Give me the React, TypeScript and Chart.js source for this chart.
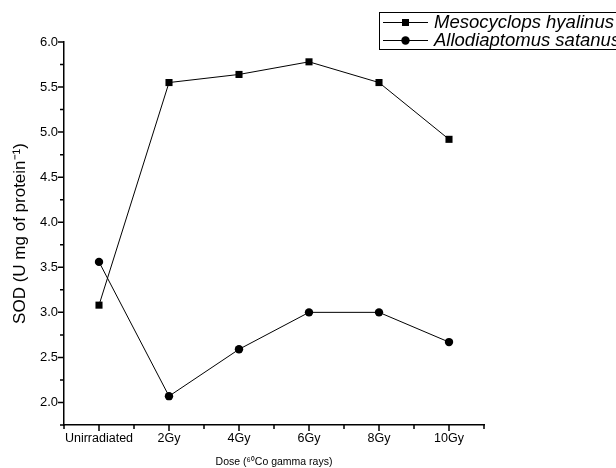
import React, { useEffect, useRef } from 'react';
import { Chart, registerables } from 'chart.js';

Chart.register(...registerables);

const categories = ['Unirradiated', '2Gy', '4Gy', '6Gy', '8Gy', '10Gy'];
const mesocyclops = [3.08, 5.55, 5.64, 5.78, 5.55, 4.92];
const allodiaptomus = [3.56, 2.07, 2.59, 3.0, 3.0, 2.67];
const seriesNames = ['Mesocyclops hyalinus', 'Allodiaptomus satanus'];
const yTickLabels = ['2.0', '2.5', '3.0', '3.5', '4.0', '4.5', '5.0', '5.5', '6.0'];
const yTitle = 'SOD (U mg of protein\u207B\u00B9)';
const xTitle = 'Dose (\u2076\u2070Co gamma rays)';

const FONT = "'Liberation Sans', Arial, sans-serif";

const tickPlugin = {
  id: 'outerTicks',
  afterDraw(chart: any) {
    const { ctx, chartArea } = chart;
    const xs = chart.scales.x;
    const ys = chart.scales.y;
    ctx.save();
    ctx.strokeStyle = '#000';
    ctx.lineWidth = 1.5;
    ctx.beginPath();
    xs.ticks.forEach((t: any) => {
      const px = xs.getPixelForValue(t.value);
      const len = Number.isInteger(t.value) ? 6 : 4;
      ctx.moveTo(px, chartArea.bottom);
      ctx.lineTo(px, chartArea.bottom + len);
    });
    ys.ticks.forEach((t: any) => {
      const py = ys.getPixelForValue(t.value);
      const major = Math.abs(t.value * 2 - Math.round(t.value * 2)) < 1e-6;
      const len = major ? 6 : 4;
      ctx.moveTo(chartArea.left, py);
      ctx.lineTo(chartArea.left - len, py);
    });
    ctx.stroke();
    ctx.restore();
  },
};

const legendPlugin = {
  id: 'boxLegend',
  afterDraw(chart: any) {
    const { ctx } = chart;
    ctx.save();
    ctx.strokeStyle = '#000';
    ctx.lineWidth = 1;
    ctx.strokeRect(379.5, 12.5, 300, 37);
    const rows = [22, 40];
    chart.data.datasets.forEach((ds: any, i: number) => {
      const y = rows[i];
      ctx.beginPath();
      ctx.moveTo(383, y + 0.5);
      ctx.lineTo(428, y + 0.5);
      ctx.stroke();
      ctx.fillStyle = '#000';
      if (ds.pointStyle === 'rect') {
        ctx.fillRect(402, y - 3, 7, 7);
      } else {
        ctx.beginPath();
        ctx.arc(405.5, y + 0.5, 4.2, 0, Math.PI * 2);
        ctx.fill();
      }
      ctx.font = `italic 18.5px ${FONT}`;
      ctx.textBaseline = 'middle';
      ctx.textAlign = 'left';
      ctx.fillText(ds.label, 434, y + 1);
    });
    ctx.restore();
  },
};

export default function App() {
  const ref = useRef<HTMLCanvasElement | null>(null);
  useEffect(() => {
    if (!ref.current) return;
    const chart = new Chart(ref.current, {
      type: 'line',
      data: {
        datasets: [
          {
            label: seriesNames[0],
            data: mesocyclops.map((v, i) => ({ x: i, y: v })),
            borderColor: '#000',
            backgroundColor: '#000',
            borderWidth: 1,
            pointStyle: 'rect',
            pointRadius: 5,
            pointBorderWidth: 0,
            tension: 0,
          },
          {
            label: seriesNames[1],
            data: allodiaptomus.map((v, i) => ({ x: i, y: v })),
            borderColor: '#000',
            backgroundColor: '#000',
            borderWidth: 1,
            pointStyle: 'circle',
            pointRadius: 4.2,
            pointBorderWidth: 0,
            tension: 0,
          },
        ],
      },
      options: {
        animation: false,
        responsive: false,
        maintainAspectRatio: false,
        layout: { padding: { left: 0, top: 42, right: 132, bottom: 0 } },
        plugins: {
          legend: { display: false },
          tooltip: { enabled: false },
        },
        scales: {
          x: {
            type: 'linear',
            min: -0.5,
            max: 5.5,
            afterFit: (s: any) => {
              s.height = 43;
            },
            ticks: {
              stepSize: 0.5,
              autoSkip: false,
              maxRotation: 0,
              padding: 6,
              color: '#000',
              font: { family: FONT, size: 12.5 },
              callback: (v: any) => (Number.isInteger(v) ? categories[v] : ''),
            },
            grid: { drawOnChartArea: false, drawTicks: false },
            border: { display: true, color: '#000', width: 1.5 },
            title: {
              display: true,
              text: xTitle,
              color: '#000',
              font: { family: FONT, size: 10.5 },
              padding: { top: 0, bottom: 0 },
            },
          },
          y: {
            type: 'linear',
            min: 1.75,
            max: 6.0,
            afterFit: (s: any) => {
              s.width = 64;
            },
            ticks: {
              stepSize: 0.25,
              autoSkip: false,
              padding: 6,
              color: '#000',
              font: { family: FONT, size: 13 },
              callback: (v: any) => {
                const lab = yTickLabels.find((l) => Math.abs(parseFloat(l) - v) < 1e-6);
                return lab ?? '';
              },
            },
            grid: { drawOnChartArea: false, drawTicks: false },
            border: { display: true, color: '#000', width: 1.5 },
            title: {
              display: true,
              text: yTitle,
              color: '#000',
              font: { family: FONT, size: 17 },
              padding: { top: 10, bottom: 0 },
            },
          },
        },
      },
      plugins: [tickPlugin, legendPlugin],
    } as any);
    return () => chart.destroy();
  }, []);
  return (
    <div style={{ position: 'fixed', left: 0, top: 0, width: 616, height: 468, background: '#fff' }}>
      <canvas ref={ref} width={616} height={468} style={{ width: 616, height: 468 }} />
    </div>
  );
}
